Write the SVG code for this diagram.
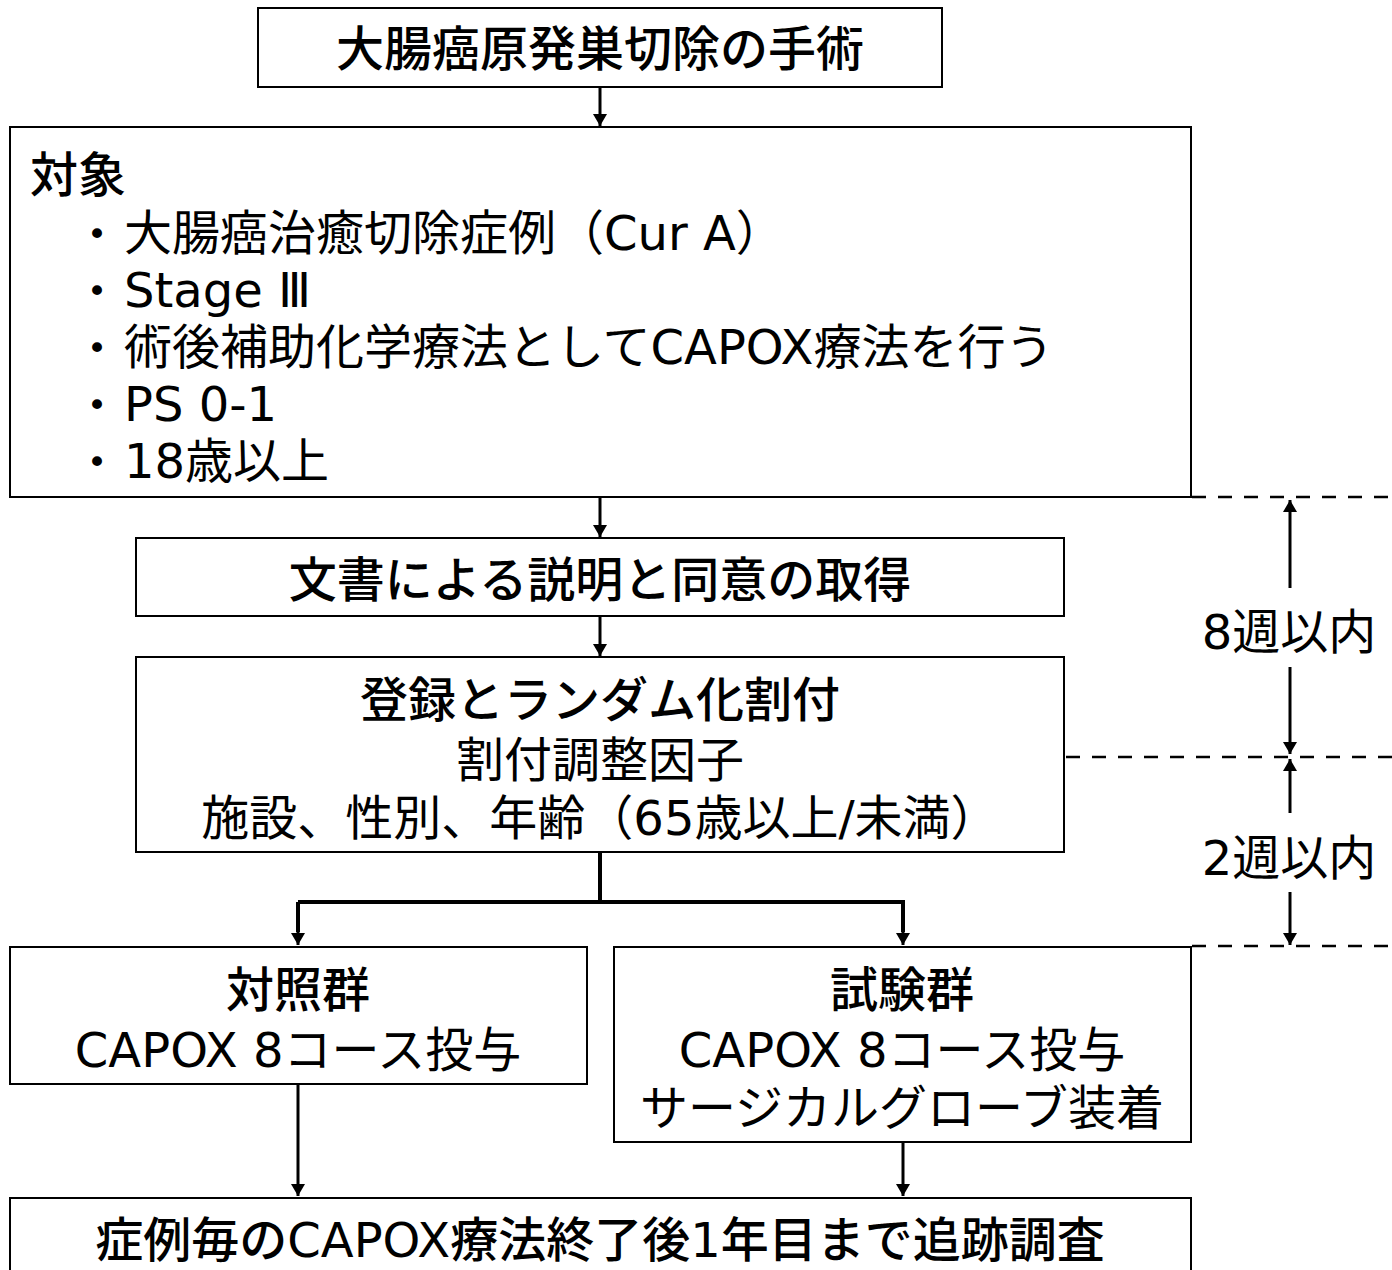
<svg xmlns="http://www.w3.org/2000/svg" width="1392" height="1270" viewBox="0 0 1392 1270">
<defs>
<style>
.box{fill:#fff;stroke:#000;stroke-width:2}
.t{font-family:"DejaVu Sans","Noto Sans CJK JP",sans-serif;font-size:48px;fill:#000}
.b{font-weight:500}
.c{text-anchor:middle}
.bul{font-size:34px}
.ln{stroke:#000;stroke-width:3;fill:none}
.thick{stroke-width:4}
.dash{stroke:#000;stroke-width:2.5;stroke-dasharray:14 12;fill:none}
</style>
<marker id="ah" viewBox="0 0 12 14" refX="12" refY="7" markerWidth="12" markerHeight="14" markerUnits="userSpaceOnUse" orient="auto">
<path d="M0,0 L12,7 L0,14 Z" fill="#000"/>
</marker>
</defs>
<rect width="1392" height="1270" fill="#fff"/>

<g id="connectors">
<line class="ln" x1="600" y1="87" x2="600" y2="126" marker-end="url(#ah)"/>
<line class="ln" x1="600" y1="497" x2="600" y2="537" marker-end="url(#ah)"/>
<line class="ln" x1="600" y1="616" x2="600" y2="656" marker-end="url(#ah)"/>
<polyline class="ln thick" points="600,852 600,902"/>
<polyline class="ln thick" points="298,902 903,902 903,932"/>
<line class="ln thick" x1="298" y1="902" x2="298" y2="932"/>
<line class="ln" x1="903" y1="930" x2="903" y2="945" marker-end="url(#ah)"/>
<line class="ln" x1="298" y1="930" x2="298" y2="945" marker-end="url(#ah)"/>
<line class="ln" x1="298" y1="1084" x2="298" y2="1196" marker-end="url(#ah)"/>
<line class="ln" x1="903" y1="1142" x2="903" y2="1196" marker-end="url(#ah)"/>
<line class="dash" x1="1192" y1="497" x2="1392" y2="497"/>
<line class="dash" x1="1066" y1="757" x2="1392" y2="757"/>
<line class="dash" x1="1192" y1="946" x2="1392" y2="946"/>
<line class="ln" x1="1290" y1="588" x2="1290" y2="500" marker-end="url(#ah)"/>
<line class="ln" x1="1290" y1="667" x2="1290" y2="754" marker-end="url(#ah)"/>
<line class="ln" x1="1290" y1="813" x2="1290" y2="759" marker-end="url(#ah)"/>
<line class="ln" x1="1290" y1="892" x2="1290" y2="945" marker-end="url(#ah)"/>
</g>

<g id="surgery">
<rect class="box" x="258" y="8" width="684" height="79"/>
<text class="t b c" x="600" y="66">大腸癌原発巣切除の手術</text>
</g>

<g id="eligibility">
<rect class="box" x="10" y="127" width="1181" height="370"/>
<text class="t b" x="30" y="192">対象</text>
<text class="t c bul" x="97" y="246">•</text>
<text class="t" x="124" y="250">大腸癌治癒切除症例（Cur A）</text>
<text class="t c bul" x="97" y="303">•</text>
<text class="t" x="124" y="307">Stage Ⅲ</text>
<text class="t c bul" x="97" y="360">•</text>
<text class="t" x="124" y="364">術後補助化学療法としてCAPOX療法を行う</text>
<text class="t c bul" x="97" y="417">•</text>
<text class="t" x="124" y="421">PS 0-1</text>
<text class="t c bul" x="97" y="474">•</text>
<text class="t" x="124" y="478">18歳以上</text>
</g>

<g id="consent">
<rect class="box" x="136" y="538" width="928" height="78"/>
<text class="t b c" x="600" y="597">文書による説明と同意の取得</text>
</g>

<g id="randomization">
<rect class="box" x="136" y="657" width="928" height="195"/>
<text class="t b c" x="600" y="717">登録とランダム化割付</text>
<text class="t c" x="600" y="777">割付調整因子</text>
<text class="t c" x="600" y="835">施設、性別、年齢（65歳以上/未満）</text>
</g>

<g id="control">
<rect class="box" x="10" y="947" width="577" height="137"/>
<text class="t b c" x="298" y="1007">対照群</text>
<text class="t c" x="298" y="1067">CAPOX 8コース投与</text>
</g>

<g id="test">
<rect class="box" x="614" y="947" width="577" height="195"/>
<text class="t b c" x="902" y="1007">試験群</text>
<text class="t c" x="902" y="1067">CAPOX 8コース投与</text>
<text class="t c" x="902" y="1125">サージカルグローブ装着</text>
</g>

<g id="followup">
<rect class="box" x="10" y="1198" width="1181" height="90"/>
<text class="t b c" x="600" y="1257">症例毎のCAPOX療法終了後1年目まで追跡調査</text>
</g>

<g id="intervals">
<text class="t c" x="1289" y="649">8週以内</text>
<text class="t c" x="1289" y="875">2週以内</text>
</g>
</svg>
